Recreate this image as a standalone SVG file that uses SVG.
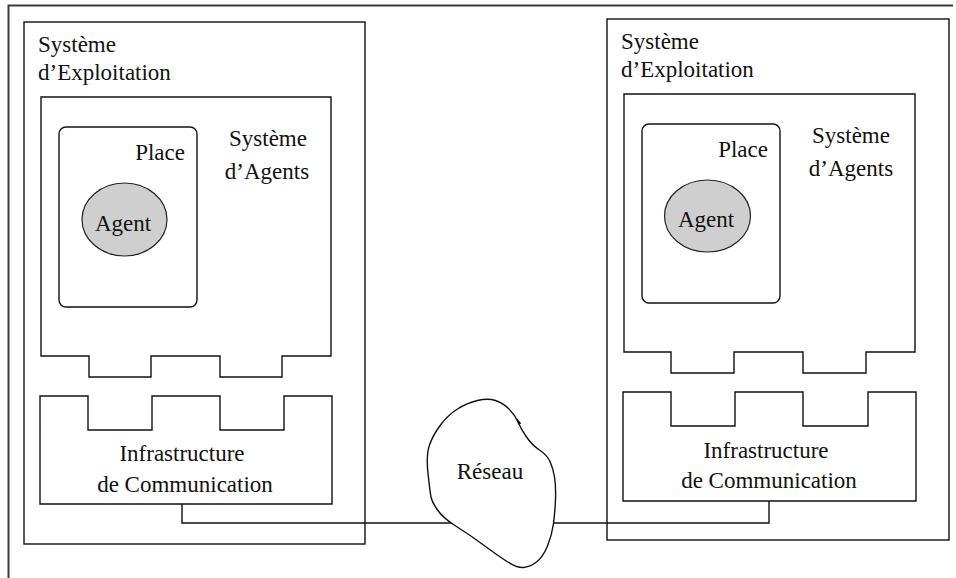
<svg xmlns="http://www.w3.org/2000/svg" width="956" height="578" viewBox="0 0 956 578">
  <style>
    .box { fill: none; stroke: #111; stroke-width: 1.4; }
    .fillbox { fill: #fff; stroke: #111; stroke-width: 1.4; }
    .agent { fill: #cfcfcf; stroke: #222; stroke-width: 1.2; }
    .wire { fill: none; stroke: #111; stroke-width: 1.4; }
    .frame { fill: none; stroke: #3a3a3a; stroke-width: 2; }
    .mid { text-anchor: middle; }
    .end { text-anchor: end; }
  </style>

  <rect width="956" height="578" fill="#fff"/>

  <!-- page frame -->
  <path class="frame" d="M953,5.5 H8.5 V578"/>

  <!-- connector between the two communication layers -->
  <g id="connectors">
    <path class="wire" d="M182,504 V523 H769 V501"/>
  </g>

  <g font-family="'Liberation Serif', 'Times New Roman', 'DejaVu Serif', serif" font-size="23" fill="#111">
    <!-- left host -->
    <g id="os-left">
      <rect class="box" x="24" y="22" width="341" height="522"/>
      <text x="38" y="52">Système</text>
      <text x="38" y="80">d’Exploitation</text>
    </g>
    <g id="agents-left">
      <path class="box" d="M41,97 H331 V356 H282 V377 H220 V356 H151 V377 H89 V356 H41 Z"/>
      <text class="mid" x="268" y="146">Système</text>
      <text class="mid" x="267" y="179">d’Agents</text>
    </g>
    <g id="place-left">
      <rect class="box" x="59" y="127" width="138" height="180" rx="7"/>
      <text class="end" x="185" y="160">Place</text>
    </g>
    <g id="agent-left">
      <ellipse class="agent" cx="124.5" cy="219.5" rx="42.5" ry="36.5"/>
      <text class="mid" x="123" y="231">Agent</text>
    </g>
    <g id="comm-left">
      <path class="box" d="M40,396 H88 V430 H152 V396 H220 V430 H284 V396 H332 V504 H40 Z"/>
      <text class="mid" x="182" y="461">Infrastructure</text>
      <text class="mid" x="185" y="492">de Communication</text>
    </g>

    <!-- right host -->
    <g id="os-right">
      <rect class="box" x="607" y="19" width="342" height="521"/>
      <text x="621" y="49">Système</text>
      <text x="621" y="77">d’Exploitation</text>
    </g>
    <g id="agents-right">
      <path class="box" d="M624,94 H915 V352 H866 V373 H803 V352 H734 V373 H671 V352 H624 Z"/>
      <text class="mid" x="851" y="143">Système</text>
      <text class="mid" x="851" y="176">d’Agents</text>
    </g>
    <g id="place-right">
      <rect class="box" x="642" y="124" width="138" height="179" rx="7"/>
      <text class="end" x="768" y="157">Place</text>
    </g>
    <g id="agent-right">
      <ellipse class="agent" cx="707.5" cy="216" rx="43" ry="36"/>
      <text class="mid" x="706" y="227">Agent</text>
    </g>
    <g id="comm-right">
      <path class="box" d="M623,392 H671 V426 H735 V392 H803 V426 H868 V392 H916 V501 H623 Z"/>
      <text class="mid" x="766" y="458">Infrastructure</text>
      <text class="mid" x="769" y="488">de Communication</text>
    </g>

    <!-- network cloud -->
    <g id="reseau">
      <path class="fillbox" d="M495.5,400.5 Q503,403 509,409 Q515,415 518,422 Q521,429 526.5,437 Q532,445 539.5,450 Q547,455 550,461.5 Q553,468 554.5,477 Q556,486 555.5,499 Q555,512 553.5,523.5 Q552,535 547.5,546 Q543,557 536.5,562 Q530,567 523.5,567.5 Q517,568 507,561.5 Q497,555 483.5,545 Q470,535 456.5,526.5 Q443,518 437.5,510 Q432,502 431,497 Q430,492 428,473.5 Q426,455 429.5,445 Q433,435 440.5,425 Q448,415 457.5,409 Q467,403 477.5,400.5 Q488,398 495.5,400.5 Z"/>
      <polygon points="516.6,418 521.4,423.4 518.2,424.6" fill="#111"/>
      <text class="mid" x="490" y="479">Réseau</text>
    </g>
  </g>
</svg>
